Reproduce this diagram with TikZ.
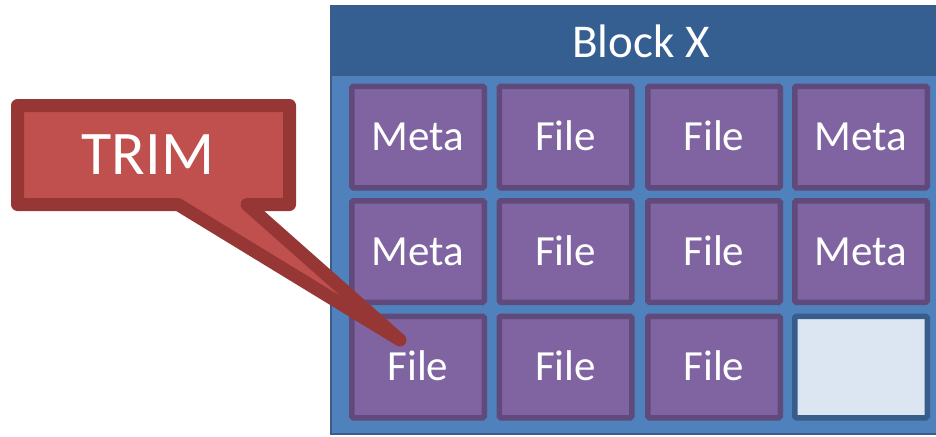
\documentclass[tikz,border=0pt]{standalone}
\usepackage{fontspec}
\setmainfont{Carlito}
\definecolor{headblue}{RGB}{54,95,145}
\definecolor{bodyblue}{RGB}{79,129,189}
\definecolor{edgeblue}{RGB}{56,93,138}
\definecolor{cellfill}{RGB}{128,100,162}
\definecolor{celledge}{RGB}{96,74,123}
\definecolor{freefill}{RGB}{220,230,242}
\definecolor{trimfill}{RGB}{192,80,77}
\definecolor{trimedge}{RGB}{150,55,53}
\tikzset{
  cellbox/.style={draw=celledge, fill=cellfill, line width=5.5pt,
    rounded corners=1.5pt, minimum width=132.5pt, minimum height=101.5pt,
    inner sep=0pt, text=white, font=\fontsize{43}{48}\selectfont,
    text height=27.2pt, text depth=0pt},
  freebox/.style={cellbox, draw=edgeblue, fill=freefill},
  calloutpath/.style={draw=trimedge, fill=trimfill, line width=13pt, line join=round}
}
\begin{document}
\begin{tikzpicture}[x=1pt, y=-1pt]
\useasboundingbox (0,0) rectangle (936,436);
\begin{scope}
\clip (0,0) rectangle (936,436);
% block body and title bar
\draw[edgeblue, fill=bodyblue, line width=1.5pt] (331,6) rectangle (951,434);
\draw[edgeblue, fill=headblue, line width=1.5pt] (331,6) rectangle (951,75);
\node[text=white, font=\fontsize{47}{52}\selectfont, inner sep=0pt,
  text height=29.7pt, text depth=0pt] (title) at (641,43) {Block X};
% grid of cells
\node[cellbox] (c11) at (418,137) {Meta};
\node[cellbox] (c12) at (565.5,137) {File};
\node[cellbox] (c13) at (714,137) {File};
\node[cellbox] (c14) at (861,137) {Meta};
\node[cellbox] (c21) at (418,251.5) {Meta};
\node[cellbox] (c22) at (565.5,251.5) {File};
\node[cellbox] (c23) at (714,251.5) {File};
\node[cellbox] (c24) at (861,251.5) {Meta};
\node[cellbox] (c31) at (418,367) {File};
\node[cellbox] (c32) at (565.5,367) {File};
\node[cellbox] (c33) at (714,367) {File};
\node[freebox] (c34) at (861,367) {};
\end{scope}
% callout pointing at the trimmed cell
\coordinate (tip) at (400,340);
\coordinate (bl) at (178,204.5);
\coordinate (br) at (247,204.5);
\draw[calloutpath] (17.5,105.5) -- (289.5,105.5) -- (289.5,204.5) -- (br)
  -- (tip) -- (bl) -- (17.5,204.5) -- cycle;
\node[text=white, font=\fontsize{62}{68}\selectfont, inner sep=0pt,
  text height=39.2pt, text depth=0pt] (trim) at (148,155) {TRIM};
\end{tikzpicture}
\end{document}
